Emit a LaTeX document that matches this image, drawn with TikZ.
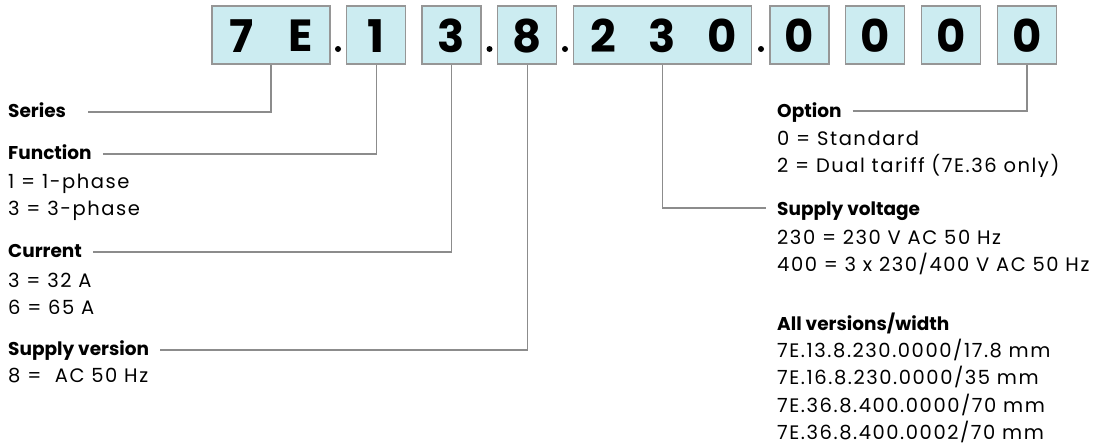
\documentclass[tikz,border=0pt]{standalone}
\usepackage{fontspec}
\setmainfont{Poppins}
\newfontfamily\bodyfont[LetterSpace=8]{Poppins}
\usetikzlibrary{positioning,calc}
\definecolor{codefill}{RGB}{204,236,241}
\definecolor{codeedge}{RGB}{150,150,150}
\definecolor{leadgray}{RGB}{140,140,140}

\begin{document}
\begin{tikzpicture}[x=1pt,y=-1pt,
    cell/.style={
      draw=codeedge,
      fill=codefill,
      line width=1.3pt,
      minimum width=59pt,
      minimum height=58pt,
      inner sep=0pt
    },
    digit/.style={font=\fontsize{45}{45}\selectfont\bfseries,inner sep=0pt},
    codedot/.style={circle,fill=black,inner sep=0pt,minimum size=6pt},
    head/.style={font=\fontsize{18.5}{27}\selectfont\bfseries,anchor=base west,inner sep=0pt},
    body/.style={font=\bodyfont\fontsize{19.5}{27.5}\selectfont,anchor=base west,align=left,inner sep=0pt},
    lead/.style={draw=leadgray,line width=1.2pt}
  ]
  \useasboundingbox (0,0) rectangle (1094,447);

  % code boxes
  \node[cell,minimum width=118pt] (b7E) at (271,35) {};
  \node[cell] (b1) at (376.2,35) {};
  \node[cell] (b3) at (451.5,35) {};
  \node[cell] (b8) at (527.3,35) {};
  \node[cell,minimum width=178.4pt] (b230) at (662.5,35) {};
  \node[cell] (b0a) at (799.5,35) {};
  \node[cell] (b0b) at (875,35) {};
  \node[cell] (b0c) at (951.2,35) {};
  \node[cell] (b0d) at (1027,35) {};

  \node[digit] (d7) at (241.5,36) {7};
  \node[digit] (dE) at (300.5,36) {E};
  \node[digit] (d1) at (b1 |- d7) {1};
  \node[digit] (d3) at (b3 |- d7) {3};
  \node[digit] (d8) at (b8 |- d7) {8};
  \node[digit] (d2) at (603,36) {2};
  \node[digit] (d3b) at (b230 |- d7) {3};
  \node[digit] (d0) at (722,36) {0};
  \node[digit] (d0a) at (b0a |- d7) {0};
  \node[digit] (d0b) at (b0b |- d7) {0};
  \node[digit] (d0c) at (b0c |- d7) {0};
  \node[digit] (d0d) at (b0d |- d7) {0};

  \node[codedot] (p1) at (338,49) {};
  \node[codedot] (p2) at (489.5,49) {};
  \node[codedot] (p3) at (565,49) {};
  \node[codedot] (p4) at (761,49) {};

  % left column (body nodes sit on their last baseline)
  \node[head] (series) at (8,117) {Series};
  \node[head] (function) at (8,159) {Function};
  \node[body] (functxt) at (8,215.5) {1 = 1-phase\\3 = 3-phase};
  \node[head] (current) at (8,257) {Current};
  \node[body] (currtxt) at (8,314.5) {3 = 32 A\\6 = 65 A};
  \node[head] (supver) at (8,355) {Supply version};
  \node[body] (supvertxt) at (8,382) {8 = \ AC 50 Hz};

  % right column
  \node[head] (option) at (777,117) {Option};
  \node[body] (optiontxt) at (777,172.5) {0 = Standard\\2 = Dual tariff (7E.36 only)};
  \node[head] (voltage) at (777,215) {Supply voltage};
  \node[body] (voltagetxt) at (777,271.5) {230 = 230 V AC 50 Hz\\400 = 3 x 230/400 V AC 50 Hz};
  \node[head] (versions) at (777,330) {All versions/width};
  \node[body] (versionstxt) at (777,439.5) {7E.13.8.230.0000/17.8 mm\\7E.16.8.230.0000/35 mm\\7E.36.8.400.0000/70 mm\\7E.36.8.400.0002/70 mm};

  % leader lines
  \draw[lead] ([xshift=22pt,yshift=5pt]series.base east) -| (b7E.south);
  \draw[lead] ([xshift=11pt,yshift=5pt]function.base east) -| (b1.south);
  \draw[lead] ([xshift=11pt,yshift=5pt]current.base east) -| (b3.south);
  \draw[lead] ([xshift=11pt,yshift=5pt]supver.base east) -| (b8.south);
  \draw[lead] ([xshift=11pt,yshift=6pt]option.base east) -| (b0d.south);
  \draw[lead] (b230.south) |- ([xshift=-11pt,yshift=7pt]voltage.base west);
\end{tikzpicture}
\end{document}
